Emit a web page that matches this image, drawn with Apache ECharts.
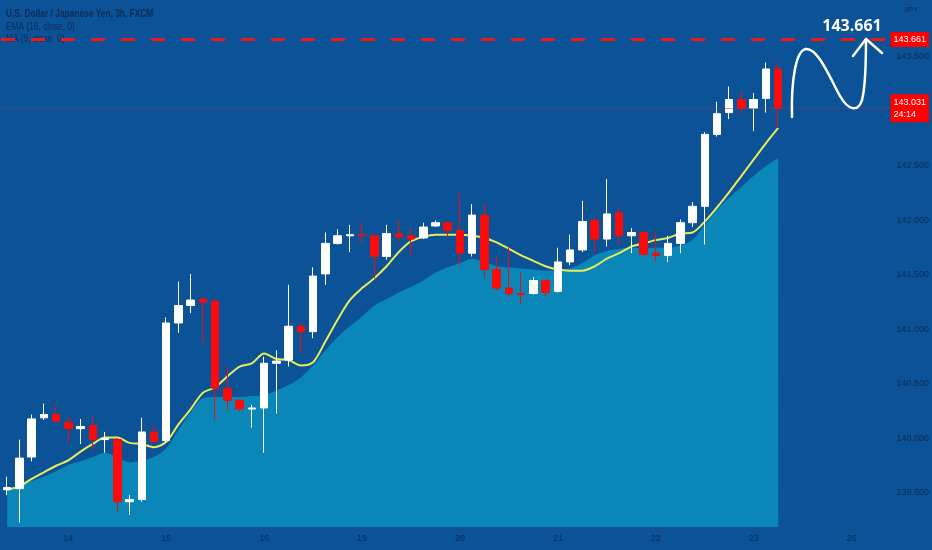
<!DOCTYPE html>
<html>
<head>
<meta charset="utf-8">
<script src="https://cdn.jsdelivr.net/npm/echarts@6/dist/echarts.min.js"></script>
<style>
  html, body { margin: 0; padding: 0; background: #0b5297; }
  #chart { width: 932px; height: 550px; }
</style>
</head>
<body>
<div id="chart"></div>
<script>
// 3h candles, [open, close, low, high]
const candles = [
  [139.53, 139.55, 139.48, 139.65], [139.54, 139.82, 139.23, 139.99], [139.83, 140.18, 139.79, 140.22],
  [140.19, 140.22, 140.17, 140.32], [140.22, 140.16, 140.14, 140.30], [140.15, 140.09, 139.96, 140.20],
  [140.09, 140.11, 139.95, 140.18], [140.12, 139.99, 139.89, 140.20], [139.99, 140.00, 139.87, 140.06],
  [139.99, 139.42, 139.33, 140.00], [139.42, 139.44, 139.30, 139.48], [139.44, 140.06, 139.42, 140.19],
  [140.06, 139.97, 139.96, 140.12], [139.98, 141.06, 139.96, 141.11], [141.06, 141.22, 140.97, 141.44],
  [141.22, 141.27, 141.15, 141.51], [141.28, 141.25, 140.88, 141.29], [141.26, 140.46, 140.17, 141.29],
  [140.46, 140.35, 140.26, 140.66], [140.35, 140.27, 140.25, 140.36], [140.27, 140.28, 140.10, 140.31],
  [140.28, 140.69, 139.87, 140.75], [140.69, 140.71, 140.23, 140.81], [140.72, 141.03, 140.66, 141.41],
  [141.03, 140.98, 140.79, 141.06], [140.98, 141.49, 140.92, 141.57], [141.51, 141.79, 141.41, 141.89],
  [141.79, 141.86, 141.78, 141.92], [141.86, 141.87, 141.71, 141.96], [141.87, 141.86, 141.79, 141.98],
  [141.86, 141.67, 141.47, 141.87], [141.67, 141.88, 141.64, 141.96], [141.88, 141.85, 141.80, 142.00],
  [141.86, 141.83, 141.67, 141.93], [141.84, 141.94, 141.83, 141.98], [141.95, 141.98, 141.94, 142.00],
  [141.98, 141.91, 141.85, 141.99], [141.91, 141.70, 141.59, 142.25], [141.70, 142.05, 141.67, 142.15],
  [142.05, 141.55, 141.47, 142.15], [141.55, 141.38, 141.36, 141.67], [141.38, 141.33, 141.30, 141.75],
  [141.33, 141.32, 141.23, 141.52], [141.33, 141.45, 141.32, 141.48], [141.45, 141.34, 141.30, 141.46],
  [141.35, 141.62, 141.34, 141.75], [141.62, 141.73, 141.59, 141.87], [141.73, 141.99, 141.71, 142.18],
  [142.00, 141.83, 141.71, 142.04], [141.83, 142.06, 141.76, 142.38], [142.07, 141.86, 141.78, 142.13],
  [141.86, 141.89, 141.70, 141.93], [141.89, 141.69, 141.67, 141.90], [141.70, 141.68, 141.62, 141.89],
  [141.68, 141.79, 141.62, 141.86], [141.79, 141.98, 141.70, 142.01], [141.98, 142.13, 141.94, 142.17],
  [142.13, 142.79, 141.78, 142.81], [142.79, 142.98, 142.77, 143.09], [142.99, 143.11, 142.93, 143.23],
  [143.11, 143.03, 142.97, 143.18], [143.03, 143.11, 142.82, 143.17], [143.12, 143.39, 142.99, 143.45],
  [143.39, 143.03, 142.85, 143.45]
];

// EMA (16) line
const ema = [
  139.53, 139.56, 139.63, 139.69, 139.75, 139.80, 139.88, 139.95, 140.01, 140.01,
  139.96, 139.95, 139.92, 139.97, 140.13, 140.27, 140.42, 140.47, 140.57, 140.66,
  140.69, 140.78, 140.73, 140.72, 140.67, 140.70, 140.89, 141.09, 141.27, 141.38,
  141.47, 141.58, 141.71, 141.81, 141.85, 141.87, 141.87, 141.87, 141.86, 141.84,
  141.80, 141.74, 141.68, 141.63, 141.58, 141.55, 141.54, 141.54, 141.58, 141.65,
  141.70, 141.76, 141.79, 141.82, 141.84, 141.88, 141.89, 141.99, 142.12, 142.26,
  142.41, 142.56, 142.71, 142.85
];

// MA (9) shown as filled area
const ma = [
  139.53, 139.56, 139.61, 139.65, 139.70, 139.76, 139.79, 139.83, 139.87, 139.83,
  139.78, 139.80, 139.83, 139.91, 140.08, 140.24, 140.37, 140.38, 140.38, 140.38,
  140.39, 140.40, 140.44, 140.49, 140.56, 140.67, 140.81, 140.93, 141.03, 141.12,
  141.22, 141.28, 141.34, 141.39, 141.45, 141.52, 141.57, 141.61, 141.65, 141.62,
  141.58, 141.57, 141.56, 141.55, 141.54, 141.54, 141.56, 141.61, 141.68, 141.72,
  141.74, 141.75, 141.75, 141.75, 141.75, 141.77, 141.82, 141.96, 142.10, 142.21,
  142.31, 142.41, 142.50, 142.57
];

const slotCount = 73;                 // 64 bars + empty future slots
const dayIdx = [5, 13, 21, 29, 37, 45, 53, 61, 69];
const dayNames = ['14', '15', '16', '19', '20', '21', '22', '23', '26'];
const yTicks = [139.5, 140, 140.5, 141, 141.5, 142, 142.5, 143.5];
const targetPrice = 143.661;
const lastPrice = 143.031;
const countdown = '24:14';

const slots = [];
for (let i = 0; i < slotCount; i++) slots.push(String(i));
const dayLabel = {};
dayIdx.forEach((d, k) => { dayLabel[d] = dayNames[k]; });

const sans = '"Liberation Sans", Arial, sans-serif';
const dim = '#0d2c52';

// condensed legend text (no narrow font installed, so squeeze it)
function legendText(txt, y, bold) {
  return {
    type: 'text', x: 6, y: y, scaleX: 0.76,
    style: { text: txt, fill: '#0d2b55', font: (bold ? 'bold ' : '') + '11px ' + sans, verticalAlign: 'middle' }
  };
}

const chart = echarts.init(document.getElementById('chart'));
chart.setOption({
  backgroundColor: '#0b5297',
  animation: false,
  grid: { left: 1, right: 35, top: 0, bottom: 23 },
  xAxis: {
    type: 'category',
    data: slots,
    boundaryGap: true,
    axisLine: { show: false },
    axisTick: { show: false },
    splitLine: { show: false },
    axisLabel: {
      interval: 0, margin: 7, color: dim, fontSize: 9, fontFamily: sans,
      formatter: (v, i) => dayLabel[i] || ''
    }
  },
  yAxis: {
    type: 'value',
    position: 'right',
    min: 139.188,
    max: 144.023,
    axisLine: { show: false },
    axisTick: { show: false },
    splitLine: { show: false },
    axisLabel: {
      customValues: yTicks, margin: 2, color: dim, fontSize: 9, fontFamily: sans,
      formatter: v => v.toFixed(3)
    }
  },
  series: [
    {
      name: 'MA', type: 'line', data: ma, smooth: 0.3, showSymbol: false, z: 1,
      lineStyle: { width: 0 },
      areaStyle: { color: '#0a86b8', opacity: 1 }
    },
    {
      name: 'EMA', type: 'line', data: ema, smooth: 0.3, showSymbol: false, z: 3,
      lineStyle: { color: '#e9ec58', width: 2 }
    },
    {
      name: 'USDJPY', type: 'candlestick', data: candles, barWidth: 8, z: 4,
      itemStyle: {
        color: '#ffffff', color0: '#ff0a0a',
        borderColor: '#ffffff', borderColor0: '#e81010', borderWidth: 1
      },
      markLine: {
        silent: true,
        symbol: ['none', 'none'],
        data: [
          {
            yAxis: targetPrice,
            lineStyle: { color: '#f01818', width: 3, type: [14, 16] },
            label: {
              position: 'end', distance: -4, formatter: targetPrice.toFixed(3),
              color: '#fff', backgroundColor: '#ff0000', padding: [3, 3],
              fontSize: 9, fontFamily: sans
            }
          },
          {
            yAxis: lastPrice,
            lineStyle: { color: 'rgba(150,50,85,0.45)', width: 1, type: 'solid' },
            label: {
              position: 'end', distance: -4, formatter: lastPrice.toFixed(3) + '\n' + countdown,
              color: '#fff', backgroundColor: '#ff0000', padding: [2, 3], lineHeight: 12,
              fontSize: 9, fontFamily: sans
            }
          }
        ]
      }
    }
  ],
  graphic: [
    legendText('U.S. Dollar / Japanese Yen, 3h, FXCM', 14, true),
    legendText('EMA (16, close, 0)', 27, false),
    legendText('MA (9, close, 0)', 39, false),
    { type: 'text', x: 904, y: 10, style: { text: 'JPY', fill: dim, font: '8px ' + sans, verticalAlign: 'middle' } },
    // hand drawn projection arrow
    { type: 'bezierCurve', z: 10, shape: { x1: 792, y1: 117, cpx1: 791, cpy1: 80, cpx2: 796, cpy2: 50, x2: 806, y2: 49 }, style: { stroke: '#fff', lineWidth: 2.5, fill: null, lineCap: 'round' } },
    { type: 'bezierCurve', z: 10, shape: { x1: 806, y1: 49, cpx1: 818, cpy1: 48, cpx2: 830, cpy2: 78, x2: 840, y2: 96 }, style: { stroke: '#fff', lineWidth: 2.5, fill: null, lineCap: 'round' } },
    { type: 'bezierCurve', z: 10, shape: { x1: 840, y1: 96, cpx1: 848, cpy1: 110, cpx2: 858, cpy2: 113, x2: 862, y2: 100 }, style: { stroke: '#fff', lineWidth: 2.5, fill: null, lineCap: 'round' } },
    { type: 'bezierCurve', z: 10, shape: { x1: 862, y1: 100, cpx1: 866, cpy1: 85, cpx2: 866, cpy2: 60, x2: 866, y2: 39 }, style: { stroke: '#fff', lineWidth: 2.5, fill: null, lineCap: 'round' } },
    { type: 'polyline', z: 10, shape: { points: [[853, 56], [866, 39], [882, 53]] }, style: { stroke: '#fff', lineWidth: 2.5, fill: null, lineCap: 'round', lineJoin: 'round' } },
    { type: 'text', z: 10, x: 852, y: 26, style: { text: targetPrice.toFixed(3), fill: '#ffffff', font: 'bold 16px "Open Sans", sans-serif', align: 'center', verticalAlign: 'middle' } }
  ]
});
</script>
</body>
</html>
